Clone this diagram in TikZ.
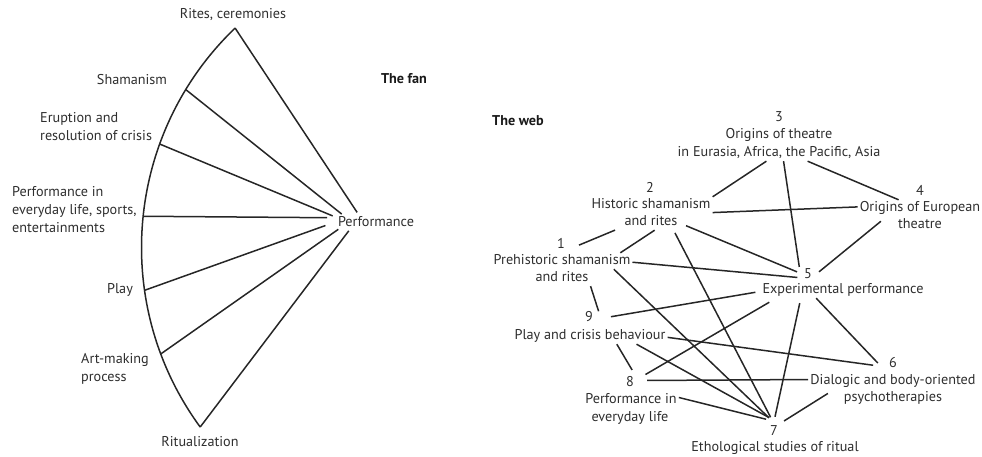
\documentclass[tikz,border=0pt]{standalone}
\usepackage{fontspec}
\setmainfont{PT Sans}
\usepackage{tikz}
\usetikzlibrary{positioning, shapes.geometric, calc}
\definecolor{inkgray}{rgb}{0.18,0.18,0.18}

\begin{document}
\begin{tikzpicture}[x=1pt, y=-1pt, font=\fontsize{14.2}{18}\selectfont, text=inkgray,
  link/.style={draw=black!85, line width=1.5pt},
  lbl/.style={inner xsep=2pt, inner ysep=2pt, text height=9.8pt, text depth=2.2pt},
  num/.style={circle, inner sep=0pt, minimum size=#1}, num/.default=22pt,
  fanlbl/.style={align=left, anchor=west, inner sep=0pt},
  title/.style={font=\fontsize{14.2}{18}\selectfont\bfseries, text=black!90}]
\useasboundingbox (0,0) rectangle (982,457);

% the fan
\pgfmathsetmacro{\fanr}{304}
\coordinate (fanc) at (445.5,247.5);
\draw[link] (fanc) ++(226.2:\fanr) arc[start angle=226.2, end angle=143.8, radius=\fanr];
\foreach \a/\n in {226.2/rites, 211.3/sham, 199.9/erup, 185.9/every, 171.9/play, 159.5/art, 143.8/ritu}
  \path (fanc) ++(\a:\fanr) coordinate (\n);

\node[ellipse, inner xsep=0pt, inner ysep=2pt] (perf) at (376,222) {Performance};
\foreach \n/\a in {rites/153, sham/167, erup/172, every/175, play/184, art/191, ritu/198}
  \draw[link] (\n) -- (perf.\a);

\node (ritesl) at (233,15) {Rites, ceremonies};
\node (shaml) at (132,80) {Shamanism};
\node[fanlbl] (erupl) at (40,127) {Eruption and\\resolution of crisis};
\node[fanlbl] (everyl) at (12,210) {Performance in\\everyday life, sports,\\entertainments};
\node (playl) at (120,290) {Play};
\node[fanlbl] (artl) at (81,369) {Art-making\\process};
\node (ritul) at (200,442) {Ritualization};
\node[title] (fan) at (404,79) {The fan};

% the web
\node[title] (web) at (518,121) {The web};
\node[num] (n3) at (779,117) {3};
\node[lbl] (o3a) at (779,135) {Origins of theatre};
\node[lbl] (o3b) at (779,153) {in Eurasia, Africa, the Pacific, Asia};
\node[num] (n2) at (650,187) {2};
\node[lbl] (o2a) at (651,205) {Historic shamanism};
\node[lbl] (o2b) at (651,222) {and rites};
\node[num] (n4) at (920,190) {4};
\node[lbl] (o4a) at (920,208) {Origins of European};
\node[lbl] (o4b) at (920,225) {theatre};
\node[num] (n1) at (561,243) {1};
\node[lbl] (o1a) at (562,261) {Prehistoric shamanism};
\node[lbl] (o1b) at (562,278) {and rites};
\node[num] (n5) at (808,274) {5};
\node[lbl] (o5) at (843,290) {Experimental performance};
\node[num] (n9) at (589,317) {9};
\node[lbl] (o9) at (590,336) {Play and crisis behaviour};
\node[num=30pt] (n6) at (893,363) {6};
\node[lbl] (o6a) at (893,381) {Dialogic and body-oriented};
\node[lbl] (o6b) at (893,398) {psychotherapies};
\node[num=24pt] (n8) at (630,382) {8};
\node[lbl] (o8a) at (631,400) {Performance in};
\node[lbl] (o8b) at (630,418) {everyday life};
\node[num=28pt] (n7) at (774,431) {7};
\node[lbl] (o7) at (775,448) {Ethological studies of ritual};

\draw[link] (o3b.213) -- (o2a.north east);
\draw[link] (o3b.-61) -- (n5.141);
\draw[link] (o3b.-16) -- (o4a.159);
\draw[link] (o2a.-7) -- (o4a.179);
\draw[link, shorten <=8pt] (o4a.-166) -- (n5.11);
\draw[link, shorten <=9pt, shorten >=8pt] (n1.-30) -- (o2b.190);
\draw[link] (o1a.8) -- (o2b.-66);
\draw[link, shorten <=7pt] (o2b.-2) -- (n5.169);
\draw[link, shorten <=3pt] (o2b.-20) -- (n7.104);
\draw[link] (o1a.-1) -- (n5.198);
\draw[link] (o1a.-9) -- (n7.111);
\draw[link] (o1b.south east) -- (n9.31);
\draw[link, shorten <=11pt, shorten >=5pt] (n9.-8) -- (o5.181);
\draw[link, shorten >=5pt] (o9.-1) -- (n6.191);
\draw[link] (o9.-17) -- (n8.80);
\draw[link] (o9.-10) -- (n7.110);
\draw[link, shorten <=5pt, shorten >=8pt] (n8.24) -- (o5.187);
\draw[link, shorten <=5pt] (n8.7) -- (o6a.179);
\draw[link] (o8a.3) -- (n7.124);
\draw[link, shorten <=5pt] (o5.191) -- (n7.86);
\draw[link] (o5.197) -- (n6.180);
\draw[link, shorten <=8pt] (o6a.188) -- (n7.45);
\end{tikzpicture}
\end{document}
